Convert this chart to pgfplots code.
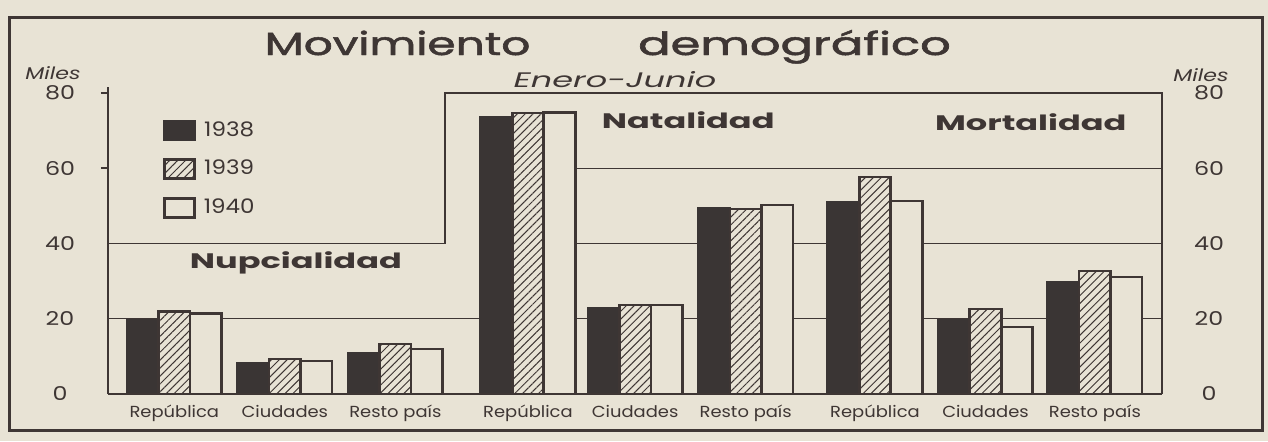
\documentclass[border=0pt]{standalone}
\usepackage{fontspec}
\setmainfont{Poppins}
\usepackage{pgfplots}
\pgfplotsset{compat=1.18}
\usetikzlibrary{patterns.meta}
\definecolor{paper}{RGB}{232,227,213}
\definecolor{ink}{RGB}{62,54,52}
\definecolor{inkbar}{RGB}{58,53,52}
% the print is drawn with wide lettering
\newcommand\wide[2][1.4]{\scalebox{#1}[1]{#2}}

% thousands, first half of the year
\pgfplotstableread{
x     y38  y39  y40
0     19.6 22.0 21.4
1     8.2  9.3  8.8
2     10.9 13.3 12.0
3.2   73.6 74.7 74.9
4.17  22.9 23.7 23.7
5.17  49.4 49.2 50.2
6.34  51.0 57.7 51.3
7.34  19.7 22.6 17.8
8.33  29.8 32.7 31.1
}\datatable

\pgfplotsset{
    panel/.style={
        at={(54pt,23.5pt)}, anchor=south west,
        scale only axis, width=527pt, height=150.5pt,
        xmin=-0.6, xmax=8.937, ymin=0, ymax=80,
        axis line style={draw=none},
        major tick length=0pt,
        tick style={draw=none},
        ytick={0,20,40,60,80},
        yticklabels={\wide[1.25]{0},\wide[1.25]{20},\wide[1.25]{40},\wide[1.25]{60},\wide[1.25]{80}},
        yticklabel style={font=\fontsize{9.5}{11}\selectfont, text=ink, anchor=center},
    },
    scale/.style={panel, axis x line=none},
}

\begin{document}
\begin{tikzpicture}
\fill[paper] (0,0) rectangle (634pt,220.5pt);
\draw[ink, line width=1.5pt] (4.5pt,5.5pt) rectangle (631pt,212pt);

\node[anchor=base, text=ink, font=\fontsize{16}{19}\selectfont\addfontfeatures{FakeBold=1.5}] at (198.75pt,193pt) {\wide[1.42]{Movimiento}};
\node[anchor=base, text=ink, font=\fontsize{16}{19}\selectfont\addfontfeatures{FakeBold=1.5}] at (397.25pt,193pt) {\wide[1.5]{demográfico}};
\node[anchor=base, text=ink, font=\fontsize{10.5}{12}\itshape] at (307.5pt,177pt) {\wide[1.6]{Enero-Junio}};
\node[text=ink, font=\fontsize{8.5}{10}\itshape] at (26.5pt,184pt) {\wide[1.3]{Miles}};
\node[text=ink, font=\fontsize{8.5}{10}\itshape] at (600.5pt,183pt) {\wide[1.3]{Miles}};

\begin{axis}[
    panel,
    clip=false,
    axis x line*=bottom, axis y line=none,
    xtick={0,1,2,3.2,4.17,5.17,6.34,7.34,8.33},
    xticklabels={\wide[1.12]{República},\wide[1.12]{Ciudades},\wide[1.12]{Resto país},
                 \wide[1.12]{República},\wide[1.12]{Ciudades},\wide[1.12]{Resto país},
                 \wide[1.12]{República},\wide[1.12]{Ciudades},\wide[1.12]{Resto país}},
    xticklabel style={font=\fontsize{8}{9}\selectfont, text=ink, yshift=-2pt},
    ybar=0pt,
    bar width=0.285,
    area legend,
    legend image code/.code={\draw[#1] (0pt,-4.75pt) rectangle (15pt,4.75pt);},
    legend style={at={(0.052,0.92)}, anchor=north west, draw=none, fill=none,
        inner sep=0pt, row sep=6.5pt, column sep=2pt, text=ink,
        font=\fontsize{10}{11}\selectfont},
]
    % rulings behind the bars
    \draw[ink, line width=0.7pt] (axis cs:-0.6,20) -- (axis cs:8.937,20);
    \draw[ink, line width=0.7pt] (axis cs:2.77,40) -- (axis cs:8.937,40);
    \draw[ink, line width=0.7pt] (axis cs:2.77,60) -- (axis cs:8.937,60);

    \addplot[bar shift=-0.285, fill=inkbar, draw=inkbar, line width=1.3pt]
        table[x=x, y=y38] {\datatable};
    \addlegendentry{\wide[1.15]{1938}}
    \addplot[bar shift=0, fill=paper, draw=ink, line width=1.3pt,
        postaction={pattern={Lines[angle=45, distance=2.8pt, line width=0.5pt]}, pattern color=ink}]
        table[x=x, y=y39] {\datatable};
    \addlegendentry{\wide[1.15]{1939}}
    \addplot[bar shift=0.285, fill=paper, draw=ink, line width=1.3pt]
        table[x=x, y=y40] {\datatable};
    \addlegendentry{\wide[1.15]{1940}}

    % frame of the three panels
    \draw[ink, line width=0.8pt] (axis cs:-0.6,81.6) -- (axis cs:-0.6,0);
    \draw[ink, line width=0.8pt] (axis cs:-0.6,40) -- (axis cs:2.448,40)
        -- (axis cs:2.448,80) -- (axis cs:8.937,80) -- (axis cs:8.937,0);
    \draw[ink, line width=1.2pt] (axis cs:-0.6,0) -- (axis cs:8.937,0);
    \draw[ink, line width=0.8pt] ([xshift=-3.5pt]axis cs:-0.6,80) -- (axis cs:-0.6,80);
    \draw[ink, line width=0.8pt] ([xshift=-3.5pt]axis cs:-0.6,60) -- (axis cs:-0.6,60);

    \node[text=ink, font=\fontsize{10.5}{12}\bfseries] at (axis cs:4.65,72.8) {\wide[1.6]{Natalidad}};
    \node[text=ink, font=\fontsize{10.5}{12}\bfseries] at (axis cs:7.75,72.3) {\wide[1.6]{Mortalidad}};
    \node[text=ink, font=\fontsize{10.5}{12}\bfseries] at (axis cs:1.10,34.8) {\wide[1.6]{Nupcialidad}};
\end{axis}

% left-hand scale
\begin{axis}[scale, axis y line*=left, yticklabel style={xshift=-24pt}]
    \addplot[draw=none, forget plot] coordinates {(0,0) (1,80)};
\end{axis}
% right-hand scale
\begin{axis}[scale, axis y line*=right, yticklabel style={xshift=23.5pt}]
    \addplot[draw=none, forget plot] coordinates {(0,0) (1,80)};
\end{axis}
\end{tikzpicture}
\end{document}
